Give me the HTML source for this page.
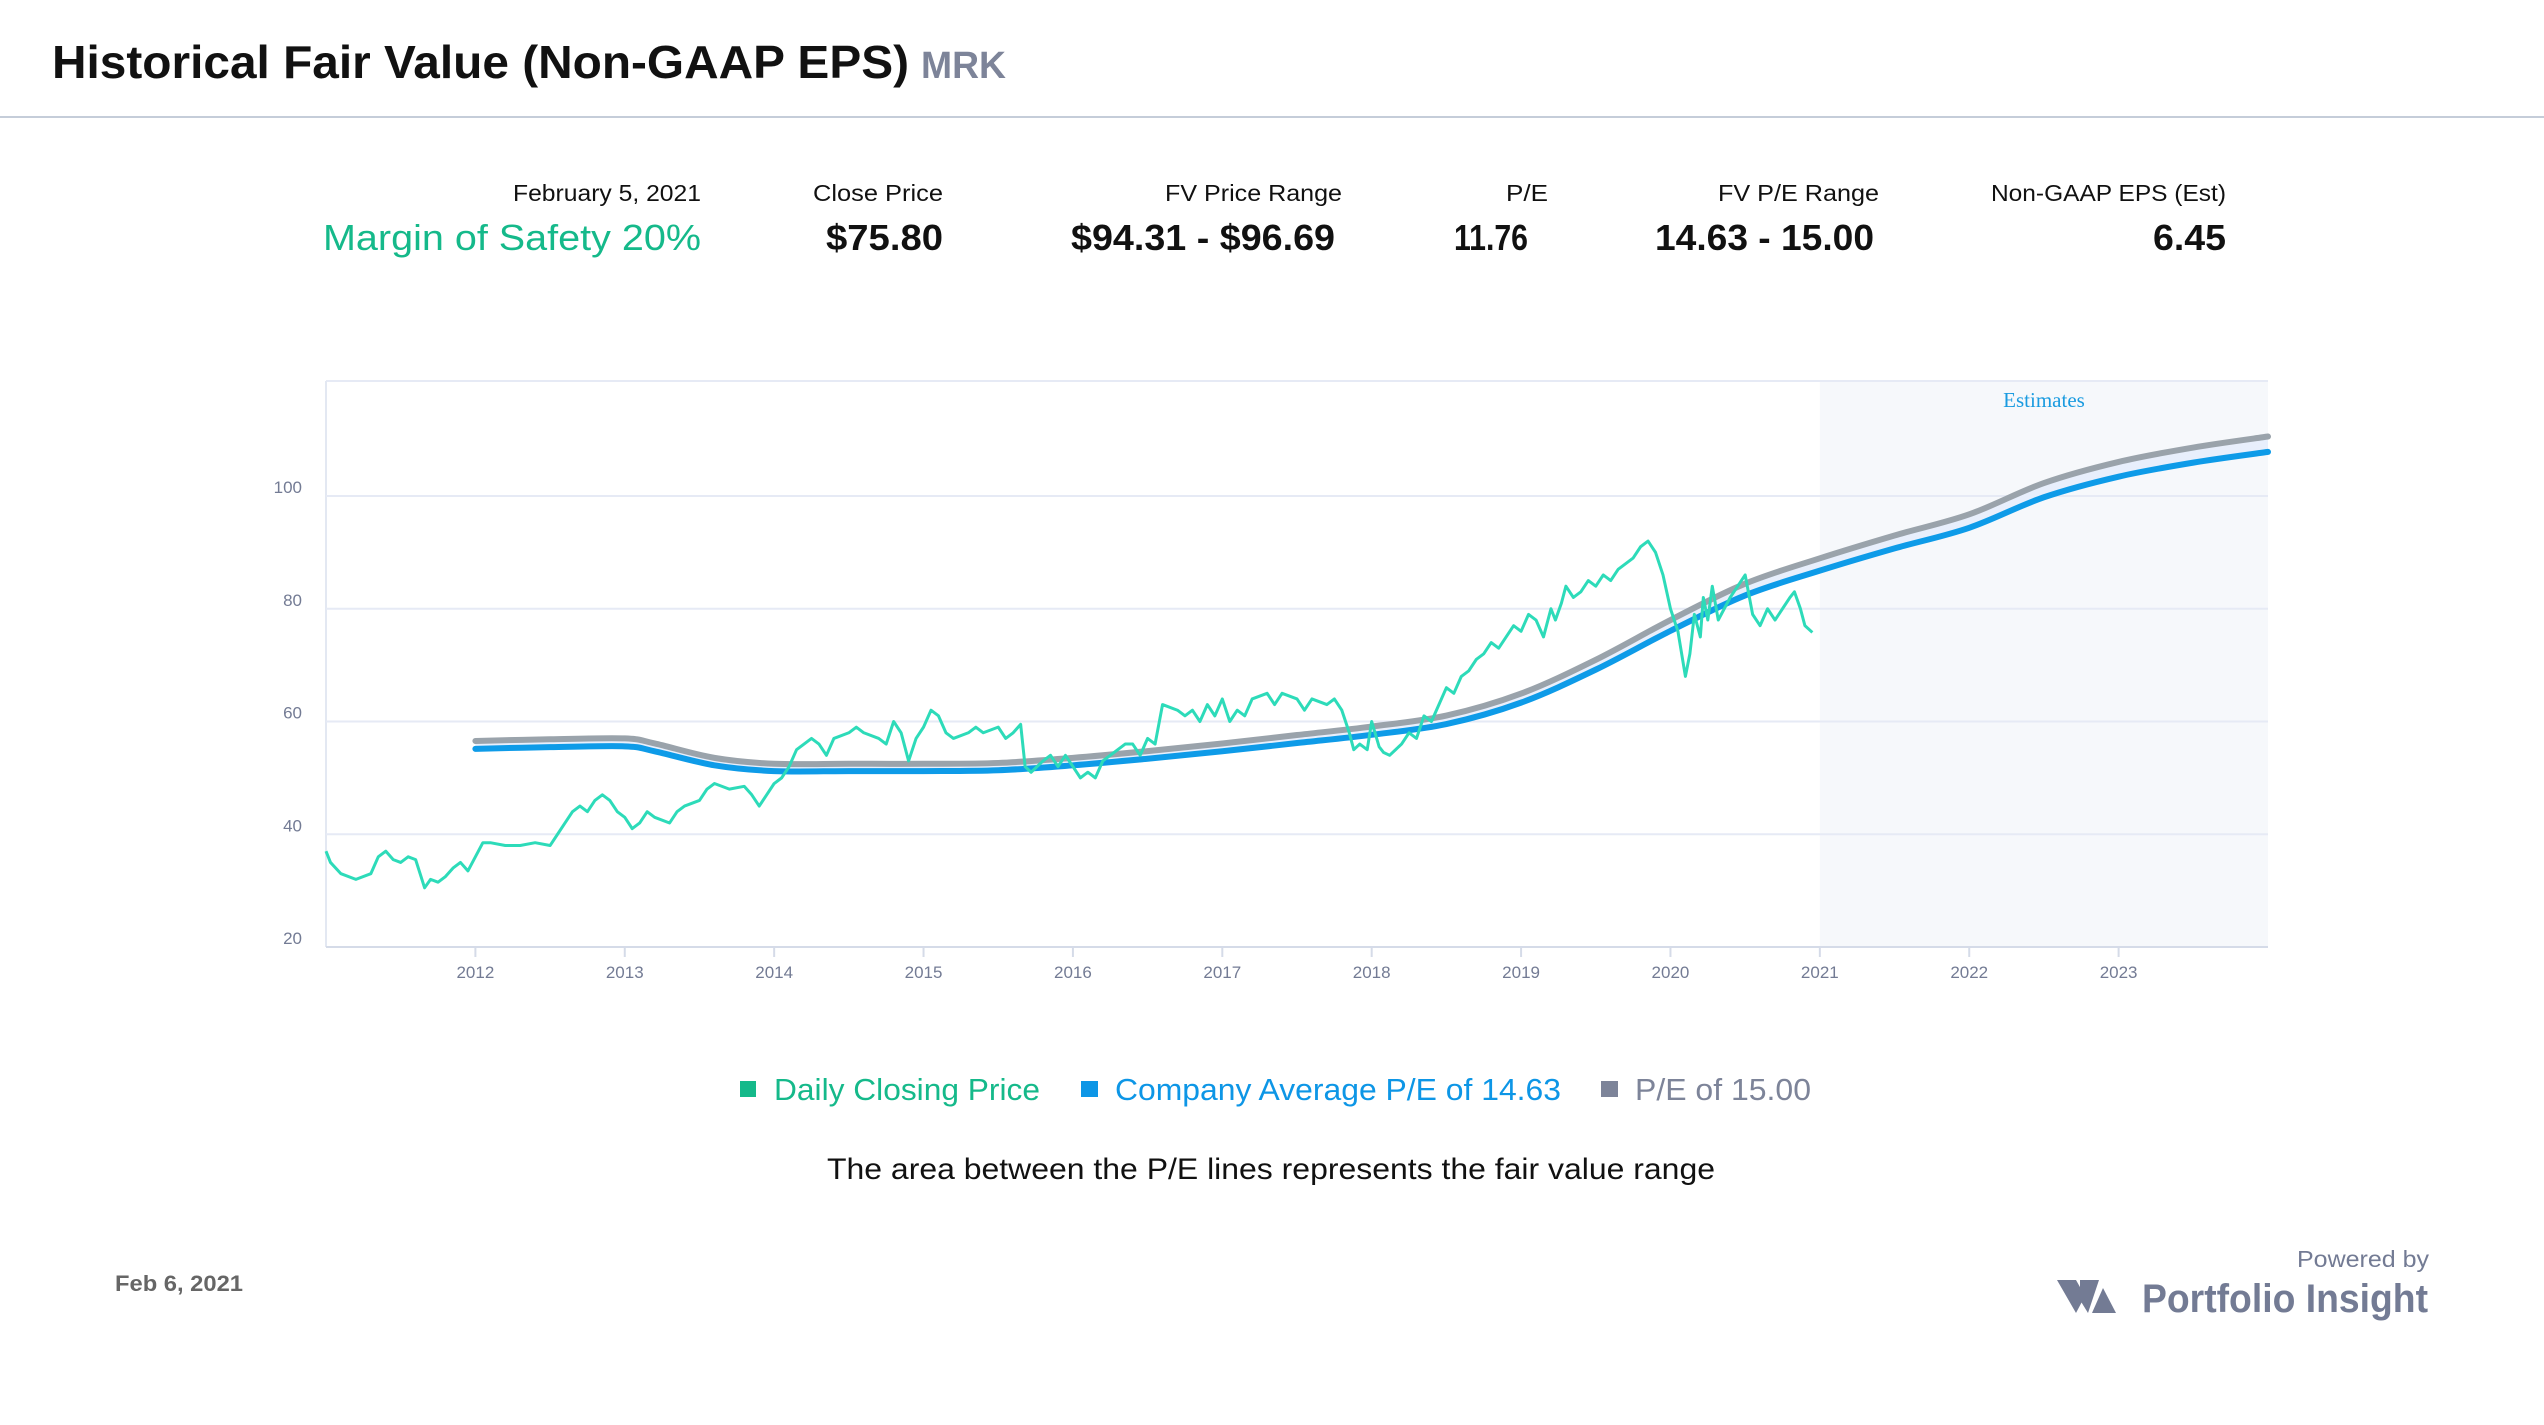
<!DOCTYPE html>
<html><head><meta charset="utf-8"><style>
html,body{margin:0;padding:0;background:#fff;}
svg{display:block;font-family:"Liberation Sans",sans-serif;}
</style></head><body>
<svg width="2544" height="1425" viewBox="0 0 2544 1425">
<g>
<text x="52" y="78" font-size="46" font-weight="bold" fill="#111" textLength="857" lengthAdjust="spacingAndGlyphs">Historical Fair Value (Non-GAAP EPS)</text>
<text x="921" y="78" font-size="38" font-weight="bold" fill="#7d8499" textLength="85" lengthAdjust="spacingAndGlyphs">MRK</text>
<rect x="0" y="116" width="2544" height="2" fill="#c5cdd9"/>
</g>
<g font-size="23" fill="#111">
<text x="513" y="201" textLength="188" lengthAdjust="spacingAndGlyphs">February 5, 2021</text>
<text x="323" y="250" font-size="36" fill="#15b98a" textLength="378" lengthAdjust="spacingAndGlyphs">Margin of Safety 20%</text>
<text x="813" y="201" textLength="130" lengthAdjust="spacingAndGlyphs">Close Price</text>
<text x="826" y="250" font-size="36" font-weight="bold" textLength="117" lengthAdjust="spacingAndGlyphs">$75.80</text>
<text x="1165" y="201" textLength="177" lengthAdjust="spacingAndGlyphs">FV Price Range</text>
<text x="1071" y="250" font-size="36" font-weight="bold" textLength="264" lengthAdjust="spacingAndGlyphs">$94.31  - $96.69</text>
<text x="1506" y="201" textLength="42" lengthAdjust="spacingAndGlyphs">P/E</text>
<text x="1454" y="250" font-size="36" font-weight="bold" textLength="74" lengthAdjust="spacingAndGlyphs">11.76</text>
<text x="1718" y="201" textLength="161" lengthAdjust="spacingAndGlyphs">FV P/E Range</text>
<text x="1655" y="250" font-size="36" font-weight="bold" textLength="219" lengthAdjust="spacingAndGlyphs">14.63  - 15.00</text>
<text x="1991" y="201" textLength="235" lengthAdjust="spacingAndGlyphs">Non-GAAP EPS (Est)</text>
<text x="2153" y="250" font-size="36" font-weight="bold" textLength="73" lengthAdjust="spacingAndGlyphs">6.45</text>
</g>
<g id="chart"></g>
<g font-size="31">
<g><rect x="740" y="1081" width="16" height="16" fill="#15b98a"/><text x="774" y="1100" fill="#15b98a" textLength="266" lengthAdjust="spacingAndGlyphs">Daily Closing Price</text></g>
<g><rect x="1081" y="1081" width="17" height="16" fill="#0d96e6"/><text x="1115" y="1100" fill="#0d96e6" textLength="446" lengthAdjust="spacingAndGlyphs">Company Average P/E of 14.63</text></g>
<g><rect x="1601" y="1081" width="17" height="16" fill="#7d8499"/><text x="1635" y="1100" fill="#7d8499" textLength="176" lengthAdjust="spacingAndGlyphs">P/E of 15.00</text></g>
</g>
<text x="827" y="1179" font-size="30" fill="#111" textLength="888" lengthAdjust="spacingAndGlyphs">The area between the P/E lines represents the fair value range</text>
<text x="115" y="1291" font-size="22" font-weight="bold" fill="#666" textLength="128" lengthAdjust="spacingAndGlyphs">Feb 6, 2021</text>
<g>
<text x="2297" y="1267" font-size="23" fill="#737b94" textLength="132" lengthAdjust="spacingAndGlyphs">Powered by</text>
<polygon points="2057,1280 2076,1280 2085,1296 2076,1313" fill="#737b94"/>
<polygon points="2080,1280 2099,1280 2088,1313 2080,1300" fill="#737b94"/>
<polygon points="2092,1313 2103,1288 2116,1313" fill="#737b94"/>
<text x="2142" y="1312" font-size="40" font-weight="bold" fill="#737b94" textLength="286" lengthAdjust="spacingAndGlyphs">Portfolio Insight</text>
</g>
</svg>
<script>
// price data: [year, close]
const priceYears = [2011.0,2011.03,2011.1,2011.2,2011.3,2011.35,2011.4,2011.45,2011.5,2011.55,2011.6,2011.63,2011.66,2011.7,2011.75,2011.8,2011.85,2011.9,2011.95,2012.0,2012.05,2012.1,2012.2,2012.3,2012.4,2012.5,2012.55,2012.6,2012.65,2012.7,2012.75,2012.8,2012.85,2012.9,2012.95,2013.0,2013.05,2013.1,2013.15,2013.2,2013.3,2013.35,2013.4,2013.5,2013.55,2013.6,2013.7,2013.8,2013.85,2013.9,2013.95,2014.0,2014.05,2014.1,2014.15,2014.2,2014.25,2014.3,2014.35,2014.4,2014.5,2014.55,2014.6,2014.7,2014.75,2014.8,2014.85,2014.9,2014.95,2015.0,2015.05,2015.1,2015.15,2015.2,2015.3,2015.35,2015.4,2015.5,2015.55,2015.6,2015.65,2015.68,2015.72,2015.8,2015.85,2015.9,2015.95,2016.0,2016.05,2016.1,2016.15,2016.2,2016.3,2016.35,2016.4,2016.45,2016.5,2016.55,2016.6,2016.7,2016.75,2016.8,2016.85,2016.9,2016.95,2017.0,2017.05,2017.1,2017.15,2017.2,2017.3,2017.35,2017.4,2017.5,2017.55,2017.6,2017.7,2017.75,2017.8,2017.85,2017.88,2017.92,2017.97,2018.0,2018.05,2018.08,2018.12,2018.2,2018.25,2018.3,2018.35,2018.4,2018.45,2018.5,2018.55,2018.6,2018.65,2018.7,2018.75,2018.8,2018.85,2018.9,2018.95,2019.0,2019.05,2019.1,2019.15,2019.2,2019.23,2019.27,2019.3,2019.35,2019.4,2019.45,2019.5,2019.55,2019.6,2019.65,2019.7,2019.75,2019.8,2019.85,2019.9,2019.95,2020.0,2020.05,2020.1,2020.13,2020.16,2020.2,2020.22,2020.25,2020.28,2020.32,2020.36,2020.4,2020.45,2020.5,2020.55,2020.6,2020.65,2020.7,2020.75,2020.8,2020.83,2020.87,2020.9,2020.95,2021.0,2021.03,2021.06,2021.09,2021.1];
const priceValues = [37,35,33,32,33,36,37,35.5,35,36,35.5,33,30.5,32,31.5,32.5,34,35,33.5,36,38.5,38.5,38,38,38.5,38,40,42,44,45,44,46,47,46,44,43,41,42,44,43,42,44,45,46,48,49,48,48.5,47,45,47,49,50,52,55,56,57,56,54,57,58,59,58,57,56,60,58,53,57,59,62,61,58,57,58,59,58,59,57,58,59.5,52,51,53,54,52,54,52,50,51,50,53,55,56,56,54,57,56,63,62,61,62,60,63,61,64,60,62,61,64,65,63,65,64,62,64,63,64,62,58,55,56,55,60,55.5,54.5,54,56,58,57,61,60,63,66,65,68,69,71,72,74,73,75,77,76,79,78,75,80,78,81,84,82,83,85,84,86,85,87,88,89,91,92,90,86,80,76,68,72,79,75,82,78,84,78,80,82,84,86,79,77,80,78,80,82,83,80,77,75.8];
// EPS estimates (annual), fair values = EPS * P/E
const epsYears = [2012.0,2012.5,2013.0,2013.2,2013.6,2014.0,2014.5,2015.0,2015.5,2016.0,2016.5,2017.0,2017.5,2018.0,2018.5,2019.0,2019.5,2020.0,2020.5,2021.0,2021.5,2022.0,2022.5,2023.0,2023.5,2024.0];
const epsValues = [3.77,3.79,3.8,3.74,3.57,3.5,3.5,3.5,3.51,3.57,3.65,3.74,3.84,3.94,4.07,4.33,4.73,5.2,5.63,5.93,6.2,6.45,6.82,7.07,7.24,7.37];
const peAverage = 14.63;
const peHigh = 15.0;
const yTicks = [20,40,60,80,100];
const xTicks = [2012,2013,2014,2015,2016,2017,2018,2019,2020,2021,2022,2023];
const estimateStart = 2021.0;

const L=326,R=2268,T=381,B=947;
const x0=2011.0,x1=2024.0,y0=20,y1=120.4;
const xs=v=>L+(v-x0)/(x1-x0)*(R-L);
const ys=v=>B-(v-y0)/(y1-y0)*(B-T);
const NS='http://www.w3.org/2000/svg';
const g=document.getElementById('chart');
function mk(tag,attrs,parent){const e=document.createElementNS(NS,tag);for(const k in attrs)e.setAttribute(k,attrs[k]);(parent||g).appendChild(e);return e;}

const est=mk('rect',{x:xs(estimateStart),y:T,width:R-xs(estimateStart),height:B-T,fill:'#f6f8fb'});


const frame=mk('line',{x1:L,y1:T,x2:R,y2:T,stroke:'#e6eaf5','stroke-width':2});


const lb=mk('line',{x1:L,y1:T,x2:L,y2:B,stroke:'#e3e8f2','stroke-width':2});


yTicks.forEach(v=>{
  if(v>20){const gl=mk('line',{x1:L,y1:ys(v),x2:R,y2:ys(v),stroke:'#e6eaf5','stroke-width':2});
  
  }
  const t=mk('text',{x:302,y:ys(v)-3,'font-size':17,fill:'#737b94','text-anchor':'end'});
  t.textContent=v;
  
  
});
const ax=mk('line',{x1:L,y1:B,x2:R,y2:B,stroke:'#d5dbe8','stroke-width':2});


xTicks.forEach(v=>{
  const tk=mk('line',{x1:xs(v),y1:B,x2:xs(v),y2:B+10,stroke:'#d5dbe8','stroke-width':2});
  
  
  const t=mk('text',{x:xs(v),y:978,'font-size':17,fill:'#737b94','text-anchor':'middle'});
  t.textContent=v;
  
  
});
const et=mk('text',{x:2044,y:407,'font-size':21,fill:'#1a9be0','text-anchor':'middle','font-family':'Liberation Serif, serif'});
et.textContent='Estimates';



function smooth(pts){
  let d='M'+pts[0][0]+','+pts[0][1];
  for(let i=0;i<pts.length-1;i++){
    const p0=pts[i-1]||pts[i],p1=pts[i],p2=pts[i+1],p3=pts[i+2]||p2;
    const c1=[p1[0]+(p2[0]-p0[0])/6,p1[1]+(p2[1]-p0[1])/6];
    const c2=[p2[0]-(p3[0]-p1[0])/6,p2[1]-(p3[1]-p1[1])/6];
    d+=' C'+c1[0]+','+c1[1]+' '+c2[0]+','+c2[1]+' '+p2[0]+','+p2[1];
  }
  return d;
}
const hiPts=epsYears.map((yr,i)=>[xs(yr),ys(epsValues[i]*peHigh)]);
const avPts=epsYears.map((yr,i)=>[xs(yr),ys(epsValues[i]*peAverage)]);
const band=mk('path',{d:smooth(hiPts)+' L'+smooth(avPts.slice().reverse()).slice(1),fill:'#e8effc'});


const hi=mk('path',{d:smooth(hiPts),fill:'none',stroke:'#9aa3ab','stroke-width':6,'stroke-linecap':'round'});


const av=mk('path',{d:smooth(avPts),fill:'none',stroke:'#0e9be8','stroke-width':6,'stroke-linecap':'round'});


const pr=mk('polyline',{points:priceYears.map((yr,i)=>xs(yr)+','+ys(priceValues[i])).join(' '),fill:'none',stroke:'#2ddbb9','stroke-width':3,'stroke-linejoin':'round'});


</script>
</body></html>
